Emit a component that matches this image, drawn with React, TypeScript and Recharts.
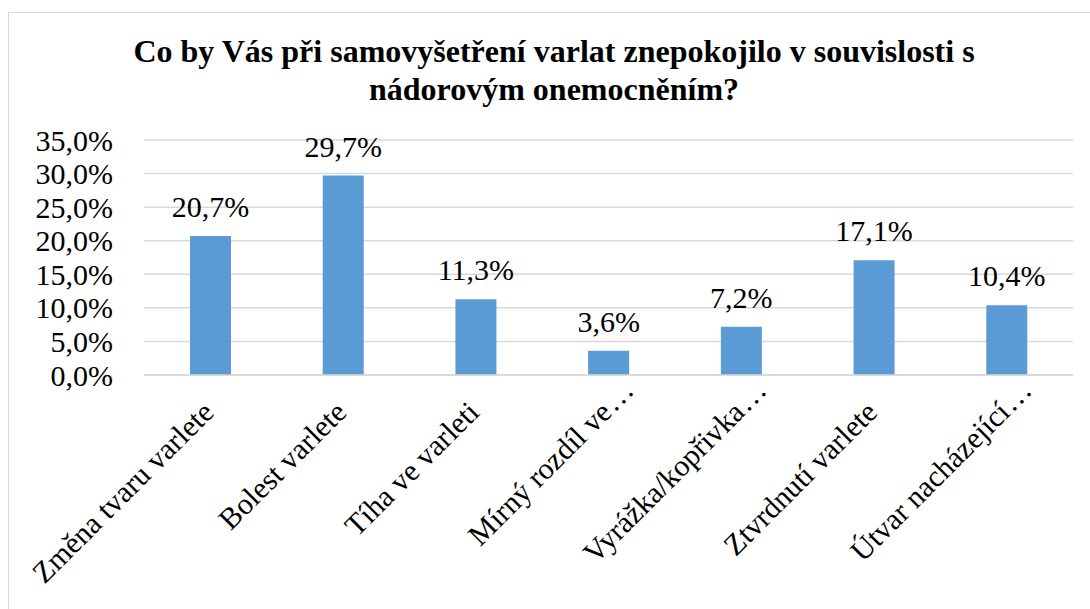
import React from 'react';
import { BarChart, Bar, XAxis, YAxis, CartesianGrid, LabelList } from 'recharts';

const categories = [
  'Změna tvaru varlete',
  'Bolest varlete',
  'Tíha ve varleti',
  'Mírný rozdíl ve…',
  'Vyrážka/kopřivka…',
  'Ztvrdnutí varlete',
  'Útvar nacházející…',
];
const values = [20.7, 29.7, 11.3, 3.6, 7.2, 17.1, 10.4];
const yTicks = [0, 5, 10, 15, 20, 25, 30, 35];
const titleLines = [
  'Co by Vás při samovyšetření varlat znepokojilo v souvislosti s',
  'nádorovým onemocněním?',
];

const data = categories.map((c, i) => ({ name: c, value: values[i] }));
const fmt = (v: number) => v.toFixed(1).replace('.', ',') + '%';
const FONT = 'Liberation Serif';

const YTick = (props: any) => {
  const { y, payload } = props;
  return (
    <text x={113} y={y} textAnchor="end" dominantBaseline="central" fontSize={30} fontFamily={FONT} fill="#000">
      {fmt(payload.value)}
    </text>
  );
};

const XTick = (props: any) => {
  const { x, payload } = props;
  const label: string = String(payload.value);
  const hasEllipsis = label.endsWith('…');
  const main = hasEllipsis ? label.slice(0, -1) : label;
  return (
    <g transform={`translate(${x + 5},${414}) rotate(-45)`}>
      <text textAnchor="end" fontSize={30} fontFamily={FONT} fill="#000">
        {main}
      </text>
      {hasEllipsis && (
        <text x={1} textAnchor="start" fontSize={30} fontFamily={FONT} fill="#000">
          …
        </text>
      )}
    </g>
  );
};

const BarLabel = (props: any) => {
  const { x, y, width, value } = props;
  return (
    <text x={x + width / 2} y={y - 19} textAnchor="middle" fontSize={30} fontFamily={FONT} fill="#000">
      {fmt(value)}
    </text>
  );
};

export default function App() {
  return (
    <div style={{ position: 'absolute', left: 0, top: 0, width: 1090, height: 609, overflow: 'hidden', background: '#fff' }}>
      <div style={{ position: 'absolute', left: 8, top: 12, width: 1120, height: 640, border: '1.5px solid #D9D9D9', boxSizing: 'border-box' }} />
      <div style={{ position: 'absolute', left: 0, top: 0 }}>
        <BarChart width={1090} height={609} data={data} margin={{ top: 140, right: 17, bottom: 34, left: 0 }}>
          <CartesianGrid vertical={false} stroke="#D9D9D9" strokeWidth={1.5} />
          <XAxis dataKey="name" height={200} interval={0} tick={<XTick />} tickLine={false} axisLine={{ stroke: '#D9D9D9', strokeWidth: 1.5 }} />
          <YAxis width={144} domain={[0, 35]} ticks={yTicks} tick={<YTick />} tickLine={false} axisLine={false} />
          <Bar dataKey="value" fill="#5B9BD5" barSize={41} isAnimationActive={false}>
            <LabelList dataKey="value" content={<BarLabel />} />
          </Bar>
        </BarChart>
      </div>
      <svg width={1090} height={130} style={{ position: 'absolute', left: 0, top: 0 }}>
        <text x={554} y={62} textAnchor="middle" fontSize={32} fontWeight="bold" fontFamily={FONT} fill="#000">
          {titleLines[0]}
        </text>
        <text x={554} y={100} textAnchor="middle" fontSize={32} fontWeight="bold" fontFamily={FONT} fill="#000">
          {titleLines[1]}
        </text>
      </svg>
    </div>
  );
}
